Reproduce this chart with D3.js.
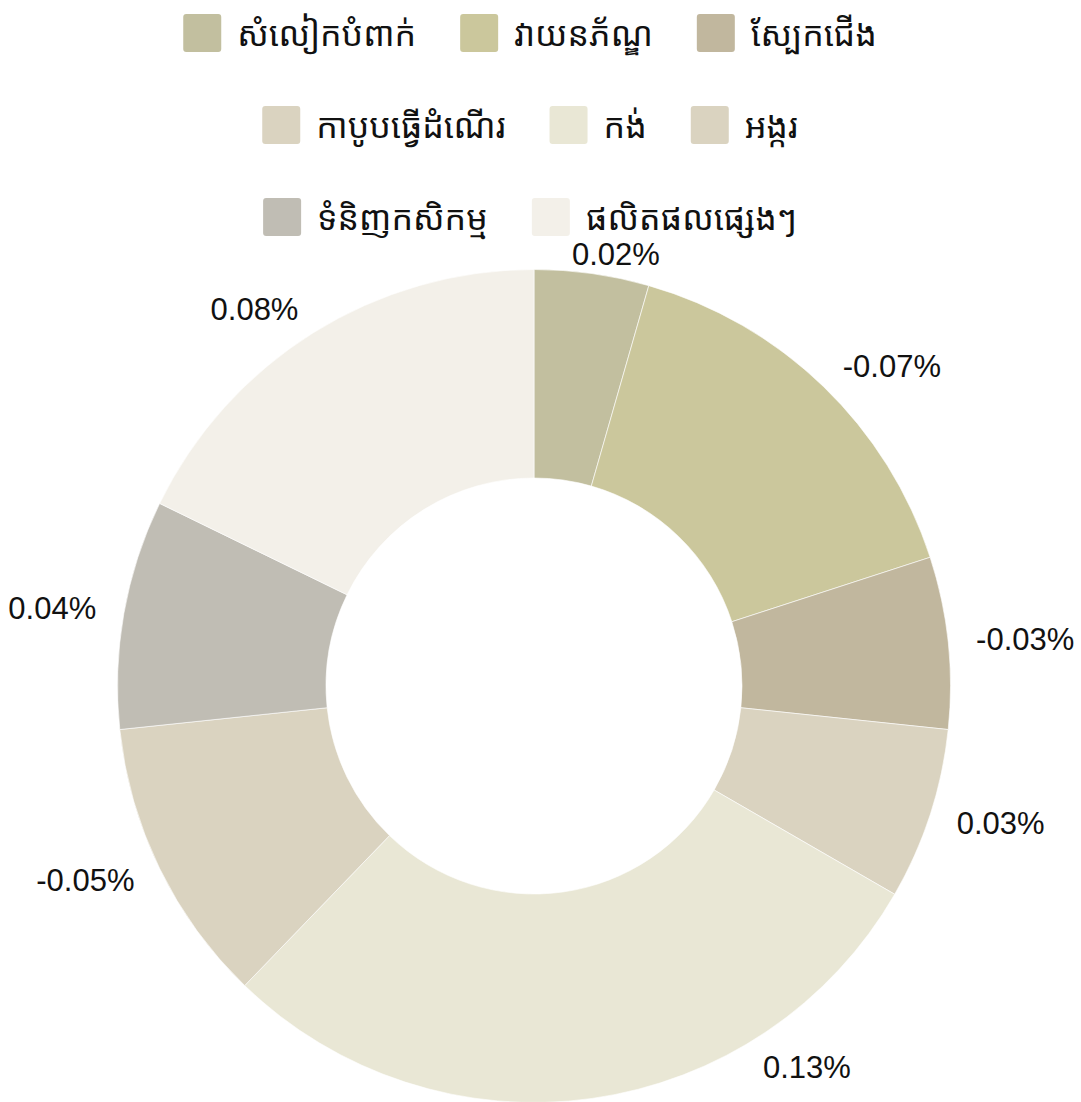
<!DOCTYPE html>
<html><head><meta charset="utf-8">
<script src="https://cdn.jsdelivr.net/npm/d3@7"></script>
<style>body{margin:0;background:#fff} svg{display:block}</style>
</head><body><svg id="c" width="1081" height="1102"></svg>
<script>
const categories = ["សំលៀកបំពាក់","វាយនភ័ណ្ឌ","ស្បែកជើង","កាបូបធ្វើដំណើរ","កង់","អង្ករ","ទំនិញកសិកម្ម","ផលិតផលផ្សេងៗ"];
const values = [0.02,-0.07,-0.03,0.03,0.13,-0.05,0.04,0.08];
const colors = ["#c2bf9f","#cbc79c","#c1b79e","#dad3c0","#e9e7d5","#dad3c0","#c0bdb4","#f3f0e9"];
const legendRows = [[0,1,2],[3,4,5],[6,7]];

const W = 1081, H = 1102;
const cx = 534, cy = 686, rOuter = 416.5, rInner = 208;
const khmerFont = '"Khmer OS","Khmer OS System","Noto Sans Khmer","Noto Serif Khmer",sans-serif';
const numFont = '"Liberation Sans", Arial, Helvetica, sans-serif';

const svg = d3.select("#c");
const data = categories.map((c,i)=>({name:c, value:values[i], color:colors[i]}));

const pie = d3.pie().sort(null).value(d=>Math.abs(d.value));
const arcs = pie(data);
const arc = d3.arc().innerRadius(rInner).outerRadius(rOuter);

const g = svg.append("g").attr("transform",`translate(${cx},${cy})`);
g.selectAll("path").data(arcs).join("path")
  .attr("d", arc)
  .attr("fill", d=>d.data.color)
  .attr("stroke", "#ffffff").attr("stroke-opacity",0.6).attr("stroke-width",1);

// labels: anchored just outside the ring at the slice's mid angle, kept inside the view
const R = rOuter + 28, minY = 254, maxY = 1067;
arcs.forEach(d=>{
  const a = (d.startAngle + d.endAngle)/2;
  const right = Math.sin(a) >= 0;
  let y = cy - R*Math.cos(a);
  let x = cx + R*Math.sin(a);
  let anchor = right ? "start" : "end";
  if (y < minY) {
    y = minY;
    anchor = "middle";
    x = cx + R*Math.sin(a) + 20;
  } else if (y > maxY) {
    y = maxY;
    const dy = y - cy;
    x = cx + (right?1:-1)*Math.sqrt(Math.max(0, R*R - dy*dy));
  }
  svg.append("text")
    .attr("x", x).attr("y", y)
    .attr("text-anchor", anchor)
    .attr("dominant-baseline","central")
    .attr("font-family", numFont).attr("font-size", 31).attr("fill","#111")
    .text(d.data.value.toFixed(2) + "%");
});

// legend
const rowY = [33, 125, 217];
const mk = 38, gapText = 16, gapItem = 44, legendCenter = 530;
legendRows.forEach((row, ri)=>{
  const rg = svg.append("g");
  let x = 0;
  row.forEach(i=>{
    const it = rg.append("g").attr("transform",`translate(${x},0)`);
    it.append("rect").attr("x",0).attr("y",rowY[ri]-mk/2).attr("width",mk).attr("height",mk)
      .attr("rx",3).attr("fill",colors[i]);
    const t = it.append("text").attr("x", mk+gapText).attr("y", rowY[ri])
      .attr("dominant-baseline","central")
      .attr("font-family", khmerFont).attr("font-size", 34).attr("fill","#111")
      .text(categories[i]);
    const w = t.node().getComputedTextLength();
    x += mk + gapText + w + gapItem;
  });
  const total = x - gapItem;
  rg.attr("transform",`translate(${legendCenter - total/2},0)`);
});
</script></body></html>
